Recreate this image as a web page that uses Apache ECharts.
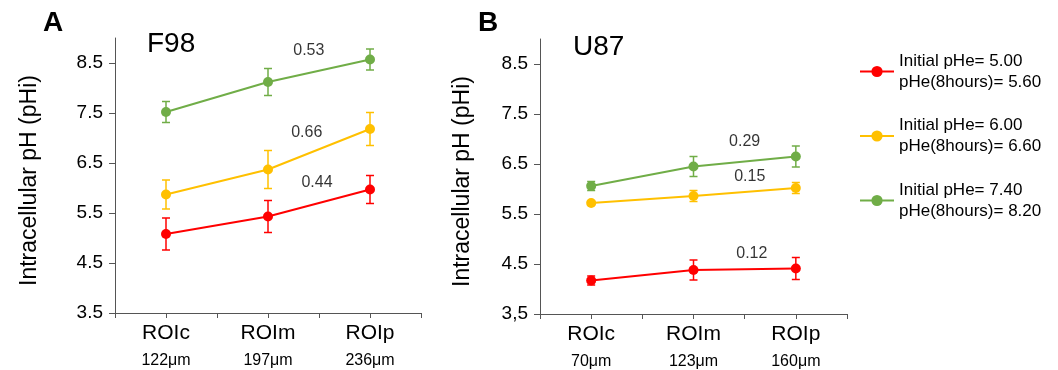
<!DOCTYPE html>
<html>
<head>
<meta charset="utf-8">
<script src="https://cdn.jsdelivr.net/npm/echarts@6/dist/echarts.min.js"></script>
<style>
html,body{margin:0;padding:0;background:#fff}
#chart{width:1058px;height:370px}
</style>
</head>
<body>
<div id="chart"></div>
<script>
const regions=['ROIc','ROIm','ROIp']
const distF98=['122μm','197μm','236μm']
const distU87=['70μm','123μm','160μm']
const xTicks=[-0.5,0,0.5,1,1.5,2,2.5]
const yTicks=[3.5,4.5,5.5,6.5,7.5,8.5]
const yTickLabelsA=['3.5','4.5','5.5','6.5','7.5','8.5']
const yTickLabelsB=['3,5','4.5','5.5','6.5','7.5','8.5']
const seriesNames=['Initial pHe= 5.00\npHe(8hours)= 5.60','Initial pHe= 6.00\npHe(8hours)= 6.60','Initial pHe= 7.40\npHe(8hours)= 8.20']
const colors=['#ff0000','#ffc000','#70ad47']

// mean pHi per region (ROIc, ROIm, ROIp), one row per initial pHe
const f98Values=[[5.08,5.43,5.97],[5.87,6.37,7.18],[7.52,8.12,8.57]]
const f98Errors=[[0.32,0.32,0.28],[0.29,0.38,0.33],[0.21,0.27,0.21]]
const u87Values=[[4.17,4.38,4.41],[5.72,5.86,6.02],[6.06,6.45,6.65]]
const u87Errors=[[0.09,0.20,0.22],[0.04,0.11,0.11],[0.09,0.20,0.21]]
// text, x, y (data coords)
const f98Notes=[['0.44',1.48,6.10],['0.66',1.38,7.10],['0.53',1.40,8.74]]
const u87Notes=[['0.12',1.57,4.70],['0.15',1.55,6.24],['0.29',1.50,6.94]]

const font='"Liberation Sans", Arial, sans-serif'
const axisColor='#555'
const txt='#000'

const chart=echarts.init(document.getElementById('chart'),null,{renderer:'canvas'})

const makeX=(gridIndex,dist)=>({
	type:'value',gridIndex,min:-0.5,max:2.5,
	axisLine:{onZero:false,lineStyle:{color:axisColor,width:1}},
	splitLine:{show:false},
	axisTick:{show:true,length:5,lineStyle:{color:axisColor},customValues:xTicks},
	axisLabel:{
		customValues:[0,1,2],margin:7,
		formatter:v=>'{a|'+regions[Math.round(v)]+'}\n{b|'+dist[Math.round(v)]+'}',
		rich:{
			a:{fontSize:21,lineHeight:26,color:txt,fontFamily:font},
			b:{fontSize:16,lineHeight:29,color:txt,fontFamily:font}
		}
	}
})
const makeY=(gridIndex,labels,nameGap)=>({
	type:'value',gridIndex,min:3.5,max:9,
	name:'Intracellular pH (pHi)',nameLocation:'middle',nameRotate:90,nameGap,
	nameTextStyle:{fontSize:23,color:txt,fontFamily:font,padding:[0,0,0,-10]},
	axisLine:{show:true,onZero:false,lineStyle:{color:axisColor,width:1}},
	splitLine:{show:false},
	axisTick:{show:true,length:6,lineStyle:{color:axisColor},customValues:yTicks},
	axisLabel:{
		customValues:yTicks,margin:12,fontSize:19,color:txt,fontFamily:font,
		formatter:v=>labels[yTicks.indexOf(v)]
	}
})

const errRender=color=>(params,api)=>{
	const x=api.value(0)
	const top=api.coord([x,api.value(2)]),bot=api.coord([x,api.value(1)])
	const w=4
	const st={stroke:color,lineWidth:1.5}
	return {type:'group',children:[
		{type:'line',shape:{x1:top[0],y1:top[1],x2:bot[0],y2:bot[1]},style:st},
		{type:'line',shape:{x1:top[0]-w,y1:top[1],x2:top[0]+w,y2:top[1]},style:st},
		{type:'line',shape:{x1:bot[0]-w,y1:bot[1],x2:bot[0]+w,y2:bot[1]},style:st}
	]}
}

const series=[]
const addPanel=(idx,values,errors,notes)=>{
	values.forEach((row,k)=>{
		series.push({
			type:'line',name:seriesNames[k],xAxisIndex:idx,yAxisIndex:idx,
			symbol:'circle',symbolSize:10,color:colors[k],z:3,
			lineStyle:{width:2,color:colors[k]},itemStyle:{color:colors[k]},
			data:row.map((v,i)=>[i,v])
		})
		series.push({
			type:'custom',name:seriesNames[k],xAxisIndex:idx,yAxisIndex:idx,
			renderItem:errRender(colors[k]),silent:true,z:2,color:colors[k],
			data:row.map((v,i)=>[i,v-errors[k][i],v+errors[k][i]])
		})
	})
	series.push({
		type:'scatter',xAxisIndex:idx,yAxisIndex:idx,symbolSize:1,silent:true,z:5,
		itemStyle:{color:'rgba(0,0,0,0)'},
		label:{show:true,position:'inside',formatter:p=>p.data[2],fontSize:16,color:txt,fontFamily:font},
		data:notes.map(n=>[n[1],n[2],n[0]])
	})
}
addPanel(0,f98Values,f98Errors,f98Notes)
addPanel(1,u87Values,u87Errors,u87Notes)

chart.setOption({
	animation:false,
	backgroundColor:'#fff',
	textStyle:{fontFamily:font},
	grid:[
		{left:115,top:38,width:306,height:275},
		{left:540,top:39,width:307,height:275}
	],
	xAxis:[makeX(0,distF98),makeX(1,distU87)],
	yAxis:[makeY(0,yTickLabelsA,74),makeY(1,yTickLabelsB,66)],
	legend:{
		data:seriesNames,orient:'vertical',left:859,top:40,padding:0,
		itemWidth:34,itemHeight:14,itemGap:1.5,selectedMode:false,
		textStyle:{fontSize:17,lineHeight:21,color:txt,fontFamily:font,padding:[21,0,0,0]}
	},
	graphic:[
		{type:'text',left:43,top:9,style:{text:'A',fontSize:28,fontWeight:'bold',fill:'#000',fontFamily:font}},
		{type:'text',left:478,top:9,style:{text:'B',fontSize:28,fontWeight:'bold',fill:'#000',fontFamily:font}},
		{type:'text',left:147,top:30,style:{text:'F98',fontSize:28,fill:txt,fontFamily:font}},
		{type:'text',left:573,top:33,style:{text:'U87',fontSize:28,fill:txt,fontFamily:font}}
	],
	series
})
</script>
</body>
</html>
